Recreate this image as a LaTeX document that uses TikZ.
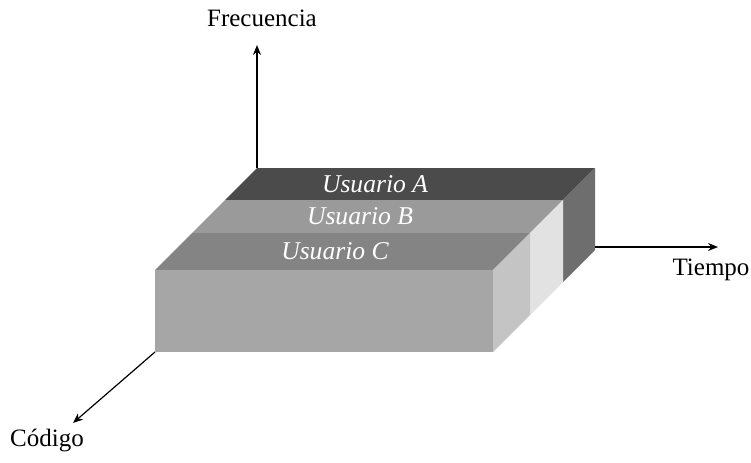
\documentclass[tikz,border=0pt]{standalone}
\usepackage{fontspec}
\setmainfont{Liberation Serif}
\usepackage{tikz}
\usetikzlibrary{arrows.meta}
\definecolor{TopA}{HTML}{4B4B4B}
\definecolor{TopB}{HTML}{9A9A9A}
\definecolor{TopC}{HTML}{848484}
\definecolor{FrontC}{HTML}{A6A6A6}
\definecolor{SideA}{HTML}{6E6E6E}
\definecolor{SideB}{HTML}{E2E2E2}
\definecolor{SideC}{HTML}{C4C4C4}
\tikzset{
    % Axis arrows
    axisarrow/.style={
        -{Stealth[length=5pt,width=4pt]},
        line width=0.6pt,
        draw=black
    },
    % Axis names
    axislabel/.style={
        font=\fontsize{12.5}{15}\selectfont,
        text=black
    },
    % Band names
    userlabel/.style={
        font=\fontsize{12.8}{15}\selectfont\itshape,
        text=white
    }
}

\begin{document}
\begin{tikzpicture}[x=0.5pt, y=-0.5pt]
        \useasboundingbox (0,0) rectangle (751,462);

        % Top faces
        \fill[TopA] (257,168) -- (595,168) -- (563,200) -- (225,200) -- cycle;
        \fill[TopB] (225,200) -- (563,200) -- (530,233) -- (192,233) -- cycle;
        \fill[TopC] (192,233) -- (530,233) -- (493,270) -- (155,270) -- cycle;

        % Front face
        \fill[FrontC] (155,270) rectangle (493,352);

        % Side faces
        \fill[SideA] (595,168) -- (595,250) -- (563,282) -- (563,200) -- cycle;
        \fill[SideB] (563,200) -- (563,282) -- (530,315) -- (530,233) -- cycle;
        \fill[SideC] (530,233) -- (530,315) -- (493,352) -- (493,270) -- cycle;

        % Band labels
        \node[userlabel] (ua) at (375,184) {Usuario A};
        \node[userlabel] (ub) at (360,216) {Usuario B};
        \node[userlabel] (uc) at (335,251) {Usuario C};

        % Axes
        \coordinate (o-f) at (257,168);
        \coordinate (o-t) at (595,247);
        \coordinate (o-c) at (155,352);
        \coordinate (tip-f) at (257,45);
        \coordinate (tip-t) at (718,247);
        \coordinate (tip-c) at (73,423);
        \draw[axisarrow] (o-f) -- (tip-f);
        \draw[axisarrow] (o-t) -- (tip-t);
        \draw[axisarrow] (o-c) -- (tip-c);

        % Axis names
        \node[axislabel] (frec) at (262,18) {Frecuencia};
        \node[axislabel] (tiempo) at (711,270) {Tiempo};
        \node[axislabel] (codigo) at (47,440) {Código};
    \end{tikzpicture}
\end{document}
